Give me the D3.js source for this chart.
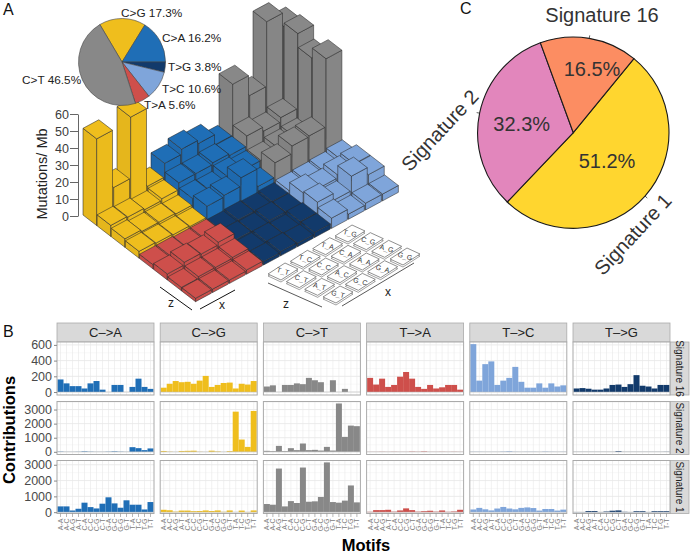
<!DOCTYPE html>
<html>
<head>
<meta charset="utf-8">
<script src="https://cdn.jsdelivr.net/npm/d3@7"></script>
<style>
  html, body { margin: 0; padding: 0; background: #fff; }
  svg { display: block; }
  text { font-family: "Liberation Sans", Arial, sans-serif; }
</style>
</head>
<body>
<div id="chart"></div>
<script>
// panel A pie
var mutationClasses = ["C>G", "C>A", "T>G", "T>C", "T>A", "C>T"];
var mutationShares = [17.3, 16.2, 3.8, 10.6, 5.6, 46.5];

// panel A bars, Mutations/Mb, reading order z (rows) by x (columns), bases T C A G
var baseOrder = ["T", "C", "A", "G"];
var barsCG = [51, 17, 53, 7,  6.5, 6, 5, 6,  5, 4, 4, 3.5,  4, 3.5, 3, 2.5];
var barsCA = [15, 18, 16, 10,  10, 10, 11, 10,  7, 6.5, 9.5, 8,  9, 10, 15, 4.5];
var barsCT = [40, 28, 66, 58,  16, 13.5, 16, 60,  8, 10, 11, 52,  13, 17.5, 18, 58];
var barsTA = [2.5, 2.5, 2, 2,  3.5, 5, 4.5, 6,  2, 3, 3, 3.5,  2, 2, 2, 2.5];
var barsTG = [1.5, 2, 1.5, 2,  2, 1.5, 2.5, 2,  1.5, 2, 1.5, 3,  2, 2.5, 2, 3];
var barsTC = [3, 3.5, 4, 5.5,  8, 6, 8, 9,  9, 5, 13.5, 9,  6, 3, 4, 4];

// panel B motif contributions
var motifs = ["A-A","A-C","A-G","A-T","C-A","C-C","C-G","C-T","G-A","G-C","G-G","G-T","T-A","T-C","T-G","T-T"];
var signatureRows = ["Signature 16", "Signature 2", "Signature 1"];
var stripClasses = ["C->A", "C->G", "C->T", "T->A", "T->C", "T->G"];

var sig16CA = [160,110,75,75,45,110,140,30,0,90,90,0,65,170,65,40];
var sig16CG = [55,105,140,125,130,105,145,205,65,90,115,120,45,105,95,140];
var sig16CT = [70,85,0,90,90,110,100,180,150,125,0,150,0,40,0,0];
var sig16TA = [180,95,170,65,90,195,255,170,65,40,90,45,60,90,90,30];
var sig16TC = [610,145,355,390,90,145,180,320,130,55,55,110,55,110,70,85];
var sig16TG = [45,50,42,30,30,45,90,95,65,100,215,80,70,45,90,90];

var sig2CA = [20,5,5,10,35,15,5,5,15,35,15,5,330,260,120,240];
var sig2CG = [60,15,0,60,70,80,10,0,80,30,0,50,2850,870,350,2900];
var sig2CT = [70,50,420,50,260,120,590,120,140,90,350,90,3430,1060,1860,1820];
var sig2TA = [5,5,10,5,10,5,5,20,10,30,5,5,10,5,10,5];
var sig2TC = [10,10,5,5,5,20,40,10,5,10,10,5,20,10,5,10];
var sig2TG = [5,5,5,5,5,5,5,50,5,5,5,5,5,5,5,10];

var sig1CA = [365,365,105,215,600,320,235,535,940,555,280,750,470,470,170,640];
var sig1CG = [150,120,30,100,100,60,70,110,70,110,20,110,0,100,10,110];
var sig1CT = [515,470,2760,365,700,580,2825,660,685,960,3150,640,600,730,1690,620];
var sig1TA = [20,130,130,150,30,110,240,130,30,60,90,30,110,20,40,150];
var sig1TC = [170,270,180,110,230,330,230,180,270,300,260,100,200,200,100,160];
var sig1TG = [10,10,70,70,10,40,90,110,20,10,60,60,10,60,60,60];

// panel C pie
var signatureNames = ["Signature 1", "Signature 2", "Signature 16"];
var signatureShares = [51.2, 32.3, 16.5];

var classColor = {"C>G": "#EFBE1D", "C>A": "#1F6EB6", "T>G": "#123A6B", "T>C": "#7FA5DA", "T>A": "#CE4F4B", "C>T": "#888888"};
var signatureColor = ["#FFD62F", "#E286BC", "#FC8D62"];
var textGray = "#3c3c3c";

var svg = d3.select("#chart").append("svg")
    .attr("width", 691)
    .attr("height", 554);

function panelLetter(t, x, y) {
  svg.append("text").attr("x", x).attr("y", y).style("font-size", "16px").attr("fill", "#111").text(t);
}
panelLetter("A", 3, 15);
panelLetter("B", 3, 337);
panelLetter("C", 460, 14);

// ---------- panel A 3D bars
var heightScale = d3.scaleLinear().domain([0, 60]).range([216, 114]);
var xAlongI = d3.scaleLinear().domain([0, 12]).range([83, 287]);
var yAlongI = d3.scaleLinear().domain([0, 12]).range([0, -110]);
var xAlongJ = d3.scaleLinear().domain([0, 8]).range([0, 113]);
var yAlongJ = d3.scaleLinear().domain([0, 8]).range([215, 302]);

function project(i, j, h) {
  return [xAlongI(i) + xAlongJ(j), yAlongI(i) + yAlongJ(j) + heightScale(h) - heightScale(0)];
}

var barGroups = [
  {name: "C>G", i0: 0, j0: 0, values: barsCG},
  {name: "C>A", i0: 4, j0: 0, values: barsCA},
  {name: "C>T", i0: 8, j0: 0, values: barsCT},
  {name: "T>A", i0: 0, j0: 4, values: barsTA},
  {name: "T>G", i0: 4, j0: 4, values: barsTG},
  {name: "T>C", i0: 8, j0: 4, values: barsTC}
];

var cells = [];
barGroups.forEach(function(g) {
  g.values.forEach(function(v, k) {
    cells.push({i: g.i0 + k % 4, j: g.j0 + Math.floor(k / 4), h: v, color: classColor[g.name]});
  });
});
cells.sort(function(a, b) { return (b.i - b.j) - (a.i - a.j); });

var footI = 0.93, footJ = 0.97;
function poly(points) { return "M" + points.map(function(p) { return p.join(","); }).join("L") + "Z"; }

var gBars = svg.append("g");
var block = gBars.selectAll("g").data(cells).enter().append("g")
    .attr("stroke", "#2b2b2b")
    .attr("stroke-width", 0.55)
    .attr("stroke-linejoin", "round");

block.append("path").attr("fill", function(d) { return d3.color(d.color).darker(0.12); })
    .attr("d", function(d) {
      return poly([project(d.i, d.j, 0), project(d.i, d.j + footJ, 0), project(d.i, d.j + footJ, d.h), project(d.i, d.j, d.h)]);
    });
block.append("path").attr("fill", function(d) { return d3.color(d.color).darker(0.05); })
    .attr("d", function(d) {
      return poly([project(d.i, d.j + footJ, 0), project(d.i + footI, d.j + footJ, 0), project(d.i + footI, d.j + footJ, d.h), project(d.i, d.j + footJ, d.h)]);
    });
block.append("path").attr("fill", function(d) { return d.color; })
    .attr("d", function(d) {
      return poly([project(d.i, d.j, d.h), project(d.i + footI, d.j, d.h), project(d.i + footI, d.j + footJ, d.h), project(d.i, d.j + footJ, d.h)]);
    });

var axisA = svg.append("g")
    .attr("transform", "translate(78,0)")
    .call(d3.axisLeft(heightScale).tickValues([0, 10, 20, 30, 40, 50, 60]).tickSize(8).tickPadding(1).tickSizeOuter(0));
axisA.selectAll("text").style("font-size", "12.5px").attr("fill", textGray);
axisA.selectAll("line").attr("stroke", "#666");
axisA.select(".domain").attr("stroke", "#666");

svg.append("text")
    .attr("transform", "translate(47,174) rotate(-90)")
    .attr("text-anchor", "middle")
    .attr("fill", "#222")
    .style("font-size", "14.5px")
    .text("Mutations/ Mb");

// ---------- panel A pie
var arcA = d3.arc().innerRadius(0).outerRadius(43.5);
var pieA = d3.pie().sort(null).startAngle(-30.6 * Math.PI / 180).endAngle((360 - 30.6) * Math.PI / 180);
var gPieA = svg.append("g").attr("transform", "translate(122,62)");
gPieA.selectAll("path")
    .data(pieA(mutationShares))
  .enter().append("path")
    .attr("d", arcA)
    .attr("fill", function(d, i) { return classColor[mutationClasses[i]]; })
    .attr("stroke", "#444")
    .attr("stroke-width", 0.6);

var pieALabelAnchors = [[121, 17], [162, 42], [168, 71], [162, 93], [144, 109], [22, 84]];
svg.selectAll(".pie-a-label")
    .data(mutationClasses)
  .enter().append("text")
    .attr("class", "pie-a-label")
    .attr("x", function(d, i) { return pieALabelAnchors[i][0]; })
    .attr("y", function(d, i) { return pieALabelAnchors[i][1]; })
    .attr("fill", "#222")
    .style("font-size", "11.8px")
    .text(function(d, i) { return d + " " + mutationShares[i] + "%"; });

// z and x guides under the bars
function guide(x1, y1, x2, y2, w) {
  svg.append("line").attr("x1", x1).attr("y1", y1).attr("x2", x2).attr("y2", y2).attr("stroke", "#111").attr("stroke-width", w);
}
function guideText(t, x, y) {
  svg.append("text").attr("x", x).attr("y", y).attr("text-anchor", "middle").attr("fill", "#222").style("font-size", "12px").text(t);
}
guide(160, 287, 192, 310, 1);
guide(200, 309, 235, 290, 1);
guideText("z", 171, 307);
guideText("x", 222, 309);
guide(268, 283, 322, 307, 0.7);
guide(342, 306, 414, 263, 0.7);
guideText("z", 286, 308);
guideText("x", 388, 296);

// key of the motif layout
var keyX = d3.scaleLinear().domain([0, 3]).range([0, 67]);
var keyXdrop = d3.scaleLinear().domain([0, 3]).range([0, -38]);
var keyZ = d3.scaleLinear().domain([0, 3]).range([0, 55]);
var keyZdrop = d3.scaleLinear().domain([0, 3]).range([271, 294]);
var keyCells = [];
baseOrder.forEach(function(zb, zi) {
  baseOrder.forEach(function(xb, xi) {
    keyCells.push({label: zb + "_" + xb, zi: zi, xi: xi});
  });
});
var key = svg.selectAll(".key").data(keyCells).enter().append("g")
    .attr("class", "key")
    .attr("transform", function(d) {
      return "translate(" + (283 + keyX(d.xi) + keyZ(d.zi)) + "," + (keyXdrop(d.xi) + keyZdrop(d.zi)) + ")";
    });
var keyShape = "M-15,3L2,-8L15,-2L-2,9Z";
key.append("path").attr("d", keyShape).attr("transform", "translate(0,2)").attr("fill", "#fff").attr("stroke", "#444").attr("stroke-width", 0.5);
key.append("path").attr("d", keyShape).attr("fill", "#fff").attr("stroke", "#444").attr("stroke-width", 0.6);
key.append("text")
    .attr("text-anchor", "middle")
    .attr("transform", "rotate(15)")
    .attr("y", 2.5)
    .attr("fill", "#333")
    .style("font-size", "7px")
    .text(function(d) { return d.label; });

// ---------- panel B facets
var facetValues = [
  [sig16CA, sig16CG, sig16CT, sig16TA, sig16TC, sig16TG],
  [sig2CA, sig2CG, sig2CT, sig2TA, sig2TC, sig2TG],
  [sig1CA, sig1CG, sig1CT, sig1TA, sig1TC, sig1TG]
];
var stripColor = ["C>A", "C>G", "C>T", "T>A", "T>C", "T>G"];
var colStart = d3.scaleLinear().domain([0, 5]).range([57, 573]);
var panelW = 97;
var rowTops = [342, 401.5, 460.5];
var panelH = 53;
var rowDomains = [[-38, 637], [-190, 3570], [-85, 3270]];
var rowTicks = [[0, 200, 400, 600], [0, 1000, 2000, 3000], [0, 1000, 2000, 3000]];

stripClasses.forEach(function(c, col) {
  var x0 = colStart(col);
  svg.append("rect").attr("x", x0).attr("y", 323).attr("width", panelW).attr("height", 19)
      .attr("fill", "#d9d9d9").attr("stroke", "#aaa").attr("stroke-width", 0.8);
  svg.append("text").attr("x", x0 + panelW / 2).attr("y", 337).attr("text-anchor", "middle")
      .attr("fill", "#222").style("font-size", "13px").text(c.replace("-", "\u2013"));
});

signatureRows.forEach(function(sig, row) {
  var top = rowTops[row];
  var y = d3.scaleLinear().domain(rowDomains[row]).range([top + panelH, top]);

  svg.append("rect").attr("x", 670).attr("y", top).attr("width", 19).attr("height", panelH)
      .attr("fill", "#d9d9d9").attr("stroke", "#aaa").attr("stroke-width", 0.8);
  svg.append("text")
      .attr("transform", "translate(676," + (top + panelH / 2) + ") rotate(90)")
      .attr("text-anchor", "middle")
      .attr("fill", "#222")
      .style("font-size", "10px")
      .text(sig);

  stripClasses.forEach(function(c, col) {
    var x0 = colStart(col);
    var x = d3.scaleBand().domain(motifs).range([x0 + 0.5, x0 + panelW - 0.5]);
    var g = svg.append("g");

    g.append("rect").attr("x", x0).attr("y", top).attr("width", panelW).attr("height", panelH).attr("fill", "#fff");

    // grid
    var ticks = rowTicks[row];
    var step = ticks[1] - ticks[0];
    d3.range(0, ticks[3] + step, step / 2).forEach(function(v, k) {
      if (y(v) < top) return;
      g.append("line").attr("x1", x0).attr("x2", x0 + panelW).attr("y1", y(v)).attr("y2", y(v))
          .attr("stroke", k % 2 ? "#f0f0f0" : "#e2e2e2").attr("stroke-width", k % 2 ? 0.5 : 0.7);
    });
    motifs.forEach(function(m) {
      g.append("line").attr("x1", x(m) + x.bandwidth() / 2).attr("x2", x(m) + x.bandwidth() / 2)
          .attr("y1", top).attr("y2", top + panelH).attr("stroke", "#e8e8e8").attr("stroke-width", 0.6);
    });

    g.selectAll(".bar")
        .data(facetValues[row][col])
      .enter().append("rect")
        .attr("class", "bar")
        .attr("x", function(d, i) { return x(motifs[i]); })
        .attr("width", x.bandwidth())
        .attr("y", function(d) { return y(d); })
        .attr("height", function(d) { return y(0) - y(d); })
        .attr("fill", classColor[stripColor[col]]);

    // zero line
    g.append("line").attr("x1", x0).attr("x2", x0 + panelW).attr("y1", y(0)).attr("y2", y(0))
        .attr("stroke", "#bbb").attr("stroke-width", 0.5);

    g.append("rect").attr("x", x0).attr("y", top).attr("width", panelW).attr("height", panelH)
        .attr("fill", "none").attr("stroke", "#aaa").attr("stroke-width", 1);

    if (row == 2) {
      var ax = svg.append("g")
          .attr("transform", "translate(0," + (top + panelH) + ")")
          .call(d3.axisBottom(x).tickSize(3.5).tickPadding(1.5));
      ax.select(".domain").remove();
      ax.selectAll("line").attr("stroke", "#888").attr("stroke-width", 0.6);
      ax.selectAll("text")
          .attr("transform", "rotate(-90)")
          .attr("text-anchor", "end")
          .attr("x", -5)
          .attr("y", 0)
          .attr("dy", "0.35em")
          .attr("fill", "#808080")
          .style("font-size", "7px");
    }
  });

  var ay = svg.append("g")
      .attr("transform", "translate(57,0)")
      .call(d3.axisLeft(y).tickValues(rowTicks[row]).tickFormat(d3.format("d")).tickSize(3).tickPadding(2).tickSizeOuter(0));
  ay.select(".domain").remove();
  ay.selectAll("line").attr("stroke", "#888");
  ay.selectAll("text").attr("fill", "#4a4a4a").style("font-size", "12.5px");
});

svg.append("text")
    .attr("transform", "translate(15,430) rotate(-90)")
    .attr("text-anchor", "middle")
    .attr("fill", "#000")
    .style("font-weight", "bold")
    .style("font-size", "16.5px")
    .text("Contributions");

svg.append("text")
    .attr("x", 366)
    .attr("y", 551)
    .attr("text-anchor", "middle")
    .attr("fill", "#000")
    .style("font-weight", "bold")
    .style("font-size", "16.5px")
    .text("Motifs");

// ---------- panel C pie
var radiusC = 95.7;
var arcC = d3.arc().innerRadius(0).outerRadius(radiusC);
var pieC = d3.pie().sort(null).startAngle(39.3 * Math.PI / 180).endAngle((360 + 39.3) * Math.PI / 180);
var gPieC = svg.append("g").attr("transform", "translate(573.3,132.7)");
var slicesC = pieC(signatureShares);
gPieC.selectAll("path")
    .data(slicesC)
  .enter().append("path")
    .attr("d", arcC)
    .attr("fill", function(d, i) { return signatureColor[i]; })
    .attr("stroke", "#1a1a1a")
    .attr("stroke-width", 1.1);

gPieC.selectAll(".tick-c")
    .data(slicesC)
  .enter().append("line")
    .attr("class", "tick-c")
    .attr("x1", function(d) { return radiusC * Math.sin((d.startAngle + d.endAngle) / 2); })
    .attr("y1", function(d) { return -radiusC * Math.cos((d.startAngle + d.endAngle) / 2); })
    .attr("x2", function(d) { return (radiusC + 3) * Math.sin((d.startAngle + d.endAngle) / 2); })
    .attr("y2", function(d) { return -(radiusC + 3) * Math.cos((d.startAngle + d.endAngle) / 2); })
    .attr("stroke", "#333")
    .attr("stroke-width", 0.8);

var shareLabelAt = [[607, 168], [521.7, 131], [592, 76]];
svg.selectAll(".share-c")
    .data(signatureShares)
  .enter().append("text")
    .attr("class", "share-c")
    .attr("x", function(d, i) { return shareLabelAt[i][0]; })
    .attr("y", function(d, i) { return shareLabelAt[i][1]; })
    .attr("text-anchor", "middle")
    .attr("fill", "#333")
    .style("font-size", "20px")
    .text(function(d) { return d + "%"; });

var nameLabelAt = [[638, 239, -47], [445, 135, -47], [602, 22, 0]];
svg.selectAll(".name-c")
    .data(signatureNames)
  .enter().append("text")
    .attr("class", "name-c")
    .attr("transform", function(d, i) { return "translate(" + nameLabelAt[i][0] + "," + nameLabelAt[i][1] + ") rotate(" + nameLabelAt[i][2] + ")"; })
    .attr("text-anchor", "middle")
    .attr("fill", "#333")
    .style("font-size", "20px")
    .text(function(d) { return d; });
</script>
</body>
</html>
